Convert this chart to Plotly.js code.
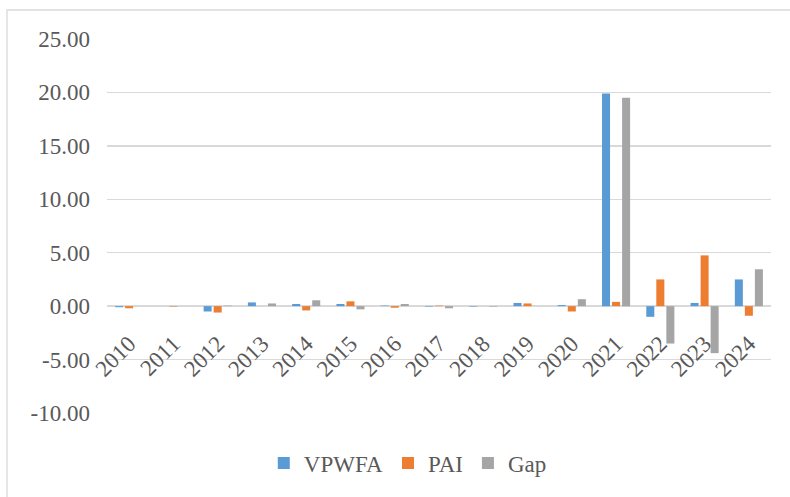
<!DOCTYPE html>
<html>
<head>
<meta charset="utf-8">
<script src="https://cdn.plot.ly/plotly-3.0.1.min.js"></script>
<style>html,body{margin:0;padding:0;background:#fff;}#chart{width:790px;height:497px;}</style>
</head>
<body>
<div id="chart"></div>
<script>
const years = ["2010","2011","2012","2013","2014","2015","2016","2017","2018","2019","2020","2021","2022","2023","2024"];
const vpwfa = [-0.1, 0.0, -0.5, 0.35, 0.2, 0.2, 0.05, -0.05, -0.05, 0.3, 0.1, 19.9, -1.0, 0.3, 2.5];
const pai   = [-0.2, -0.05, -0.6, 0.0, -0.4, 0.45, -0.15, 0.05, 0.0, 0.25, -0.5, 0.4, 2.5, 4.75, -0.9];
const gap   = [0.0, 0.0, 0.05, 0.25, 0.55, -0.3, 0.2, -0.2, -0.05, 0.0, 0.65, 19.5, -3.5, -4.4, 3.45];
const seriesNames = ["VPWFA", "PAI", "Gap"];
const colors = ["#5B9BD5", "#ED7D31", "#A5A5A5"];
const yTicks = [-10, -5, 0, 5, 10, 15, 20, 25];
const yTickText = yTicks.map(v => v.toFixed(2));

const font = "Times New Roman, Liberation Serif, DejaVu Serif, serif";
const traces = [vpwfa, pai, gap].map((v, i) => ({
  type: "bar", x: years, y: v, name: seriesNames[i],
  marker: {color: colors[i]}, hoverinfo: "x+y"
}));

const yMin = -10, yMax = 25;
const layout = {
  width: 790, height: 497,
  margin: {l: 107, r: 19, t: 39, b: 84},
  paper_bgcolor: "#fff", plot_bgcolor: "#fff",
  barmode: "group", bargap: 0.32, bargroupgap: 0.2,
  font: {family: font, color: "#595959", size: 23},
  showlegend: true,
  legend: {orientation: "h", x: 0.453, xanchor: "center", y: -0.134, yanchor: "middle",
           font: {family: font, size: 23, color: "#595959"}, traceorder: "normal"},
  xaxis: {
    type: "category", anchor: "free", position: (0 - yMin) / (yMax - yMin),
    tickangle: -45, showgrid: false, showline: false, zeroline: false,
    ticks: "outside", ticklen: 14, tickcolor: "rgba(0,0,0,0)",
    tickfont: {family: font, size: 23, color: "#595959"}, automargin: false
  },
  yaxis: {
    range: [yMin, yMax], tickvals: yTicks, ticktext: yTickText,
    showgrid: true, gridcolor: "#D9D9D9", gridwidth: 1.3,
    zeroline: true, zerolinecolor: "#D9D9D9", zerolinewidth: 1.5,
    showline: false, ticks: "", ticklabelstandoff: 16,
    tickfont: {family: font, size: 23, color: "#595959"}, automargin: false
  },
  shapes: [
    {type: "rect", xref: "paper", yref: "paper",
     x0: (7 - 107) / 664, x1: (820 - 107) / 664, y0: (413 - 530) / 374, y1: (413 - 10) / 374,
     line: {color: "#D9D9D9", width: 1.3}, fillcolor: "rgba(0,0,0,0)", layer: "below"}
  ]
};
Plotly.newPlot("chart", traces, layout, {displayModeBar: false, staticPlot: true});
</script>
</body>
</html>
